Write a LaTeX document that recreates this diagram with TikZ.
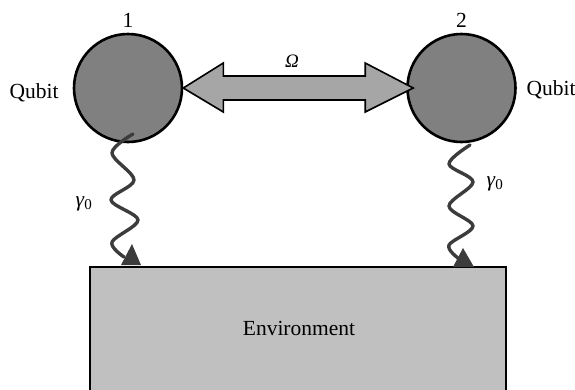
\documentclass[tikz,border=0pt]{standalone}
\usepackage{fontspec}
\setmainfont{Liberation Serif}
\usetikzlibrary{calc}
\definecolor{qubitgray}{HTML}{808080}
\definecolor{arrowgray}{HTML}{A6A6A6}
\definecolor{envgray}{HTML}{C0C0C0}
\definecolor{wavegray}{HTML}{3C3C3C}
\tikzset{
  qubit/.style={circle, draw=black, line width=2.6pt, fill=qubitgray, minimum size=108pt, inner sep=0pt},
  envbox/.style={draw=black, line width=2.8pt, fill=envgray},
  lbl/.style={font=\fontsize{21.5}{24}\selectfont, inner sep=0pt},
  wave/.style={draw=wavegray, line width=3.4pt, line join=round, line cap=round},
  tip/.style={fill=wavegray, draw=none},
  linkarrow/.style={draw=black, line width=1.6pt, fill=arrowgray, line join=miter}
}
\begin{document}
\begin{tikzpicture}[x=1pt, y=-1pt]
\useasboundingbox (0,0) rectangle (575,389);
% environment
\fill[envgray] (90,267) rectangle (506,400);
\draw[envbox] (90,400) -- (90,267) -- (506,267) -- (506,400);
\node[lbl] (env) at (299,328) {Environment};
% qubits
\node[qubit] (q1) at (128,88) {};
\node[qubit] (q2) at (461.5,88) {};
\node[lbl, anchor=south] (n1) at ($(q1.north)+(0,-5)$) {1};
\node[lbl, anchor=south] (n2) at ($(q2.north)+(0,-5)$) {2};
\node[lbl] (ql) at (34,93) {Qubit};
\node[lbl] (qr) at (551,90) {Qubit};
% double arrow
\coordinate (aL) at (q1.east);
\coordinate (aR) at ($(q2.west)+(7,0)$);
\draw[linkarrow] (aL) -- ($(aL)+(40,-25)$) -- ($(aL)+(40,-12)$) -- ($(aR)+(-48,-12)$) -- ($(aR)+(-48,-25)$)
  -- (aR) -- ($(aR)+(-48,24)$) -- ($(aR)+(-48,12)$) -- ($(aL)+(40,12)$) -- ($(aL)+(40,24)$) -- cycle;
\node[lbl, font=\fontsize{19}{21}\selectfont\itshape] (om) at (292,61) {Ω};
% wavy decay lines
\coordinate (w1s) at (133,134);
\coordinate (w1e) at (124,257);
\draw[wave] plot[smooth, tension=0.55] coordinates {(w1s) (112,153) (134,180) (111,200) (138,220) (112,242) (w1e)};
\fill[tip] (132,244) -- (141,265) -- (121,265) -- cycle;
\coordinate (w2s) at (470,145);
\coordinate (w2e) at (458,258);
\draw[wave] plot[smooth, tension=0.55] coordinates {(w2s) (449,164) (473,182) (449,206) (473,226) (449,245) (w2e)};
\fill[tip] (463,248) -- (474,267) -- (453,267) -- cycle;
\node[lbl] (g1) at (84,204) {\textit{γ}\textsubscript{0}};
\node[lbl] (g2) at (495,184) {\textit{γ}\textsubscript{0}};
\end{tikzpicture}
\end{document}
